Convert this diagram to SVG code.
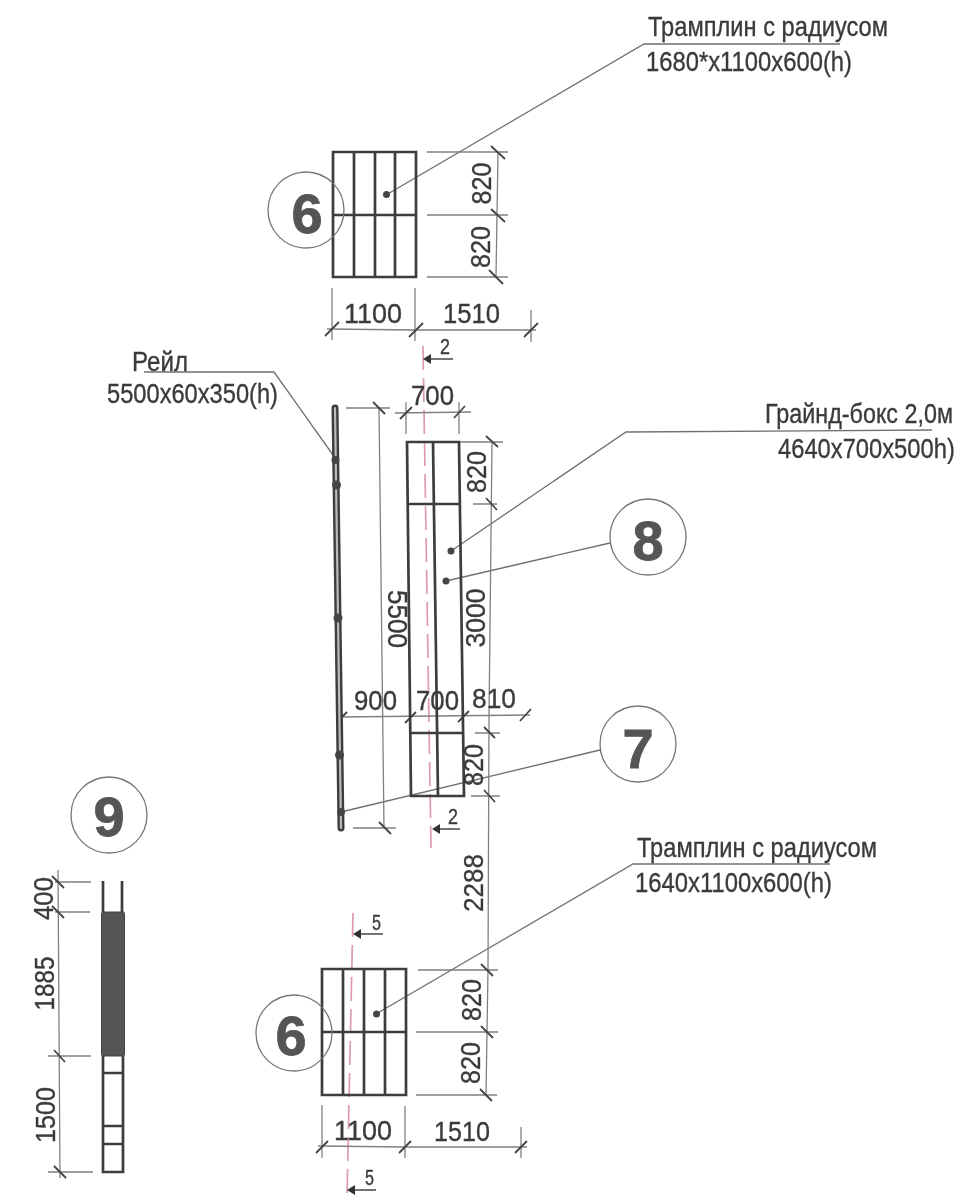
<svg xmlns="http://www.w3.org/2000/svg" width="970" height="1202" viewBox="0 0 970 1202">
<style>
text{font-family:"Liberation Sans",Arial,sans-serif;fill:#3a3a3a;stroke:#3a3a3a;stroke-width:.35}
.lbl{font-size:28px}
.dim{font-size:28.500px}
.sec{font-size:22px}
.num{font-size:56px;font-weight:bold;fill:#555;stroke:#555;stroke-width:.8;text-anchor:middle}
.thick{fill:none;stroke:#3c3c3c;stroke-width:2.700}
.thin{fill:none;stroke:#808080;stroke-width:1.300}
.tick{fill:none;stroke:#444;stroke-width:1.800}
.lead{fill:none;stroke:#707070;stroke-width:1.300}
.red{fill:none;stroke:#dd9bb0;stroke-width:1.700;stroke-dasharray:24 8}
.circ{fill:none;stroke:#777;stroke-width:1.300}
.dot{fill:#444}
.dark{fill:#555;stroke:#444;stroke-width:1}
.arr{stroke:#444;stroke-width:1.500;fill:none}
.head{fill:#333}
</style>
<defs><filter id="scan" x="0" y="0" width="100%" height="100%"><feGaussianBlur stdDeviation="0.45"/></filter></defs>
<rect width="970" height="1202" fill="#fff"/>
<g filter="url(#scan)">
<g id="connectors">
<path class="lead" d="M386 195L644 44H840"/>
<path class="lead" d="M144 372H274L333 455"/>
<path class="lead" d="M451 551L626 432L932 430"/>
<path class="lead" d="M446 581L610 543"/>
<path class="lead" d="M341 812L600 750"/>
<path class="lead" d="M376 1014L633 864H830"/>
<path class="red" d="M423 346L431 848"/>
<path class="red" d="M353 913L347 1197"/>
</g>
<g id="dimensions">
<path class="thin" d="M427 152H508M427 215H508M427 277H508M498 152L496 277"/>
<path class="thin" d="M332 288V340M415 288V341M531 310V342M327 329L416 330L536 330"/>
<path class="tick" d="M491 146L505 159M491 209L505 222M489 270L503 284M325 336L339 322M409 337L423 323M524 337L538 323"/>
<path class="thin" d="M346 408H390M353 828H396M379 408L384 828"/>
<path class="tick" d="M373 402L385 414M379 822L391 834"/>
<path class="thin" d="M395 413L471 412M406 402V434M459 402V434"/>
<path class="tick" d="M400 419L412 407M454 418L465 406"/>
<path class="thin" d="M460 442H503M473 504H497M475 733H500M471 796H500M492 442L489 720L488 970L486 1095"/>
<path class="tick" d="M486 436L498 447M486 498L497 510M484 727L495 738M484 790L495 802"/>
<path class="thin" d="M338 717L530 715"/>
<path class="tick" d="M337 722L347 712M405 723L416 712M458 722L469 711M520 721L531 709"/>
<path class="thin" d="M418 970H498M416 1032H498M416 1095H497"/>
<path class="tick" d="M481 964L493 976M481 1026L493 1038M480 1089L492 1101"/>
<path class="thin" d="M322 1105V1158M405 1106V1158M521 1127V1158M318 1146L405 1147L527 1147"/>
<path class="tick" d="M316 1153L328 1141M399 1153L411 1141M515 1153L527 1141"/>
<path class="thin" d="M58 870L60 1178M55 882H91M55 912H90M48 1056H91M48 1172H93"/>
<path class="tick" d="M52 876L64 888M52 906L64 918M54 1050L65 1062M54 1166L66 1178"/>
</g>
<g id="section-marks">
<path class="arr" d="M425 359H453"/><path class="head" d="M423 359L431 354V364Z"/>
<text class="sec" x="440" y="354" textLength="10" lengthAdjust="spacingAndGlyphs">2</text>
<path class="arr" d="M434 829H460"/><path class="head" d="M432 829L440 824V834Z"/>
<text class="sec" x="448" y="824" textLength="10" lengthAdjust="spacingAndGlyphs">2</text>
<path class="arr" d="M355 934H383"/><path class="head" d="M353 934L361 929V939Z"/>
<text class="sec" x="372" y="930" textLength="9" lengthAdjust="spacingAndGlyphs">5</text>
<path class="arr" d="M349 1190H376"/><path class="head" d="M347 1190L355 1185V1195Z"/>
<text class="sec" x="365" y="1185" textLength="9" lengthAdjust="spacingAndGlyphs">5</text>
</g>
<g id="ramp-top">
<path class="thick" d="M333 152H416V277H333ZM354 152V277M375 152V277M395 152V277M333 215H416"/>
<circle class="dot" cx="386.500" cy="194.500" r="3.500"/>
<circle class="circ" cx="306" cy="210" r="38"/>
<text class="num" x="307" y="233">6</text>
<text class="dim" transform="translate(491 183.500) rotate(-90)" text-anchor="middle" textLength="42" lengthAdjust="spacingAndGlyphs">820</text>
<text class="dim" transform="translate(490 247) rotate(-90)" text-anchor="middle" textLength="42" lengthAdjust="spacingAndGlyphs">820</text>
<text class="dim" x="344" y="323" textLength="58" lengthAdjust="spacingAndGlyphs">1100</text>
<text class="dim" x="443" y="323" textLength="57" lengthAdjust="spacingAndGlyphs">1510</text>
</g>
<g id="rail">
<path d="M335 408L341 828" fill="none" stroke="#3c3c3c" stroke-width="7" stroke-linecap="round"/>
<path d="M335 408L341 828" fill="none" stroke="#bbb" stroke-width="2.200" stroke-linecap="round"/>
<circle class="dot" cx="335.500" cy="460" r="4"/>
<circle class="dot" cx="336.500" cy="485" r="4.500"/>
<circle class="dot" cx="338" cy="618" r="4.500"/>
<circle class="dot" cx="339.500" cy="755" r="4.500"/>
<circle class="dot" cx="341" cy="812" r="4"/>
<text class="dim" transform="translate(388 619) rotate(90)" text-anchor="middle" textLength="58" lengthAdjust="spacingAndGlyphs">5500</text>
</g>
<g id="grind-box">
<path class="thick" d="M407 442H459L464 796H411ZM433 442L438 796M407 504H460M410 733H463"/>
<circle class="dot" cx="451" cy="551" r="3.500"/>
<circle class="dot" cx="446" cy="581" r="3.500"/>
<text class="dim" x="411" y="405" textLength="43" lengthAdjust="spacingAndGlyphs">700</text>
<text class="dim" transform="translate(486 472) rotate(-90)" text-anchor="middle" textLength="42" lengthAdjust="spacingAndGlyphs">820</text>
<text class="dim" transform="translate(485 618) rotate(-90)" text-anchor="middle" textLength="59" lengthAdjust="spacingAndGlyphs">3000</text>
<text class="dim" transform="translate(483 765) rotate(-90)" text-anchor="middle" textLength="42" lengthAdjust="spacingAndGlyphs">820</text>
<text class="dim" transform="translate(483 883) rotate(-90)" text-anchor="middle" textLength="58" lengthAdjust="spacingAndGlyphs">2288</text>
<text class="dim" x="354" y="710" textLength="43" lengthAdjust="spacingAndGlyphs">900</text>
<text class="dim" x="416" y="710" textLength="43" lengthAdjust="spacingAndGlyphs">700</text>
<text class="dim" x="472" y="708" textLength="44" lengthAdjust="spacingAndGlyphs">810</text>
</g>
<g id="marker-8">
<circle class="circ" cx="648" cy="537" r="38"/>
<text class="num" x="648" y="560">8</text>
</g>
<g id="marker-7">
<circle class="circ" cx="638" cy="744" r="38"/>
<text class="num" x="638" y="768">7</text>
</g>
<g id="ramp-bottom">
<path class="thick" d="M322 969H406V1095H322ZM343 969V1095M364 969V1095M385 969V1095M322 1032H406"/>
<circle class="dot" cx="376.500" cy="1014" r="3.500"/>
<circle class="circ" cx="294" cy="1033" r="38"/>
<text class="num" x="291" y="1055">6</text>
<text class="dim" transform="translate(481 1000) rotate(-90)" text-anchor="middle" textLength="42" lengthAdjust="spacingAndGlyphs">820</text>
<text class="dim" transform="translate(480 1063) rotate(-90)" text-anchor="middle" textLength="42" lengthAdjust="spacingAndGlyphs">820</text>
<text class="dim" x="334" y="1140" textLength="58" lengthAdjust="spacingAndGlyphs">1100</text>
<text class="dim" x="434" y="1141" textLength="56" lengthAdjust="spacingAndGlyphs">1510</text>
</g>
<g id="detail-9">
<circle class="circ" cx="109" cy="815" r="38"/>
<text class="num" x="109" y="836">9</text>
<path class="thick" d="M103 881V912M122 881V912M103 1056V1172H123V1056M103 1073H123M103 1126H123M103 1144H123"/>
<rect class="dark" x="101.500" y="912" width="23" height="144" rx="1.500"/>
<text class="dim" transform="translate(53 898.500) rotate(-90)" text-anchor="middle" textLength="43" lengthAdjust="spacingAndGlyphs">400</text>
<text class="dim" transform="translate(54 983.500) rotate(-90)" text-anchor="middle" textLength="54" lengthAdjust="spacingAndGlyphs">1885</text>
<text class="dim" transform="translate(55 1115) rotate(-90)" text-anchor="middle" textLength="56" lengthAdjust="spacingAndGlyphs">1500</text>
</g>
<g id="labels">
<text class="lbl" x="648" y="36" textLength="240" lengthAdjust="spacingAndGlyphs">Трамплин с радиусом</text>
<text class="lbl" x="646" y="71" textLength="206" lengthAdjust="spacingAndGlyphs">1680*x1100x600(h)</text>
<text class="lbl" x="132" y="371" textLength="56" lengthAdjust="spacingAndGlyphs">Рейл</text>
<text class="lbl" x="107" y="403" textLength="171" lengthAdjust="spacingAndGlyphs">5500x60x350(h)</text>
<text class="lbl" transform="translate(765 423) scale(.8 1)" textLength="235" lengthAdjust="spacingAndGlyphs">Грайнд-бокс 2,0м</text>
<text class="lbl" transform="translate(778 458) scale(.8 1)" textLength="221" lengthAdjust="spacingAndGlyphs">4640x700x500h)</text>
<text class="lbl" x="637" y="857" textLength="240" lengthAdjust="spacingAndGlyphs">Трамплин с радиусом</text>
<text class="lbl" x="635" y="892" textLength="197" lengthAdjust="spacingAndGlyphs">1640x1100x600(h)</text>
</g>
</g>
</svg>
